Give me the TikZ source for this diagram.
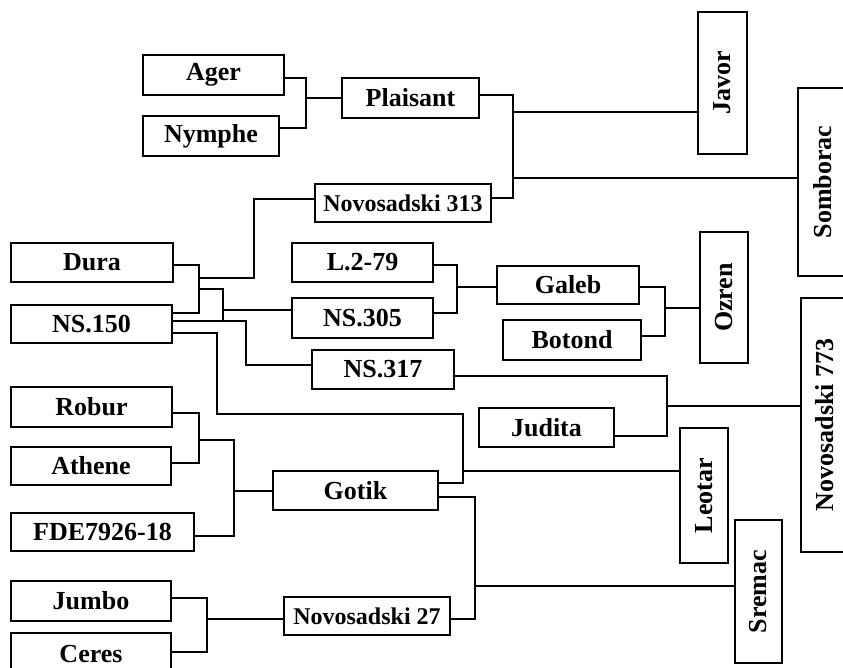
\documentclass[tikz,border=0pt]{standalone}
\usepackage{fontspec}
\setmainfont{Liberation Serif}
\usepackage{graphicx}
\begin{document}
\begin{tikzpicture}[x=1pt,y=-1pt,line width=1.5pt,
	box/.style={draw,inner sep=0pt,font=\fontsize{26}{30}\selectfont\bfseries}]
	\useasboundingbox (0,0) rectangle (843,668);
	\clip (0,0) rectangle (843,668);
	\foreach \n/\x/\y/\w/\h/\texn in {ager/213.5/75/141/40/Ager,
		nymphe/211/136/136/40/Nymphe,plaisant/410.5/98/137/40/Plaisant,
		dura/92/262.5/162/39/Dura,ns150/91.5/324/161/38/NS.150,
		l279/362.5/262.5/141/39/L.2-79,ns305/362.5/318/141/40/NS.305,
		galeb/568/285/142/38/Galeb,botond/572/340/138/40/Botond,
		ns317/383/369.5/142/39/NS.317,judita/546.5/427.5/135/39/Judita,
		robur/91.5/407/161/40/Robur,athene/91/466/160/38/Athene,
		fde/102.5/532/183/38/FDE7926-18,gotik/355.5/490.5/165/39/Gotik,
		jumbo/91/601/160/40/Jumbo,ceres/91/654/160/42/Ceres}
	\path (\x,\y) node[box,minimum width=\w,minimum height=\h](\n){\texn};
	\foreach \n/\x/\y/\w/\h/\texn in {nov313/403/203/176/38/Novosadski 313,
		nov27/367/616/166/38/Novosadski 27}
	\path (\x,\y) node[box,font=\fontsize{24}{28}\selectfont\bfseries,
	minimum width=\w,minimum height=\h](\n){\texn};
	\foreach \n/\x/\y/\w/\h/\texn in {javor/722.5/83/49/142/Javor,
		somborac/823/182/50/188/Somborac,ozren/724/297.5/48/131/Ozren,
		nov773/825/425/48/254/Novosadski 773,leotar/704/495.5/48/135/Leotar,
		sremac/758.5/591.5/47/143/Sremac}
	\path (\x,\y) node[box,minimum width=\w,minimum height=\h](\n)
	{\rotatebox{90}{\texn}};
	\foreach \n/\x/\y in {jA/306/98,jB/513/112,jB2/513/178,jC/254/278,
		jD/199/278,jE/199/289,jF/223/310,jG/246/365,jH/217/414,jI/463/471,
		jJ/457/287,jK/665/308,jL/667/406,jM/199/440,jN/234/491,jO/207/619,
		jP/475/586}
	\coordinate (\n) at (\x,\y);
	\draw ([yshift=-3pt]ager.east) -| (jA) |- ([yshift=8pt]nymphe.east);
	\draw (jA) -- (jA -| plaisant.west);
	\draw ([yshift=3pt]plaisant.east) -| (jB) |- ([yshift=5pt]nov313.east);
	\draw (jB) -- (jB -| javor.west);
	\draw (jB2) -- (jB2 -| somborac.west);
	\draw ([yshift=-2.5pt]dura.east) -| (jD) |- ([yshift=11pt]ns150.east);
	\draw ([yshift=4pt]nov313.west) -| (jC) -- (jD);
	\draw (jE) -| (jF) |- ([yshift=3pt]ns150.east);
	\draw (jF) -- (jF -| ns305.west);
	\draw ([yshift=3pt]ns150.east) -| (jG) -- (ns317.west |- jG);
	\draw ([yshift=-9pt]ns150.east) -| (jH) -| (jI) |- ([yshift=7.5pt]gotik.east);
	\draw (jI) -- (jI -| leotar.west);
	\draw ([yshift=-2.5pt]l279.east) -| (jJ) |- ([yshift=5pt]ns305.east);
	\draw (jJ) -- (jJ -| galeb.west);
	\draw ([yshift=-2pt]galeb.east) -| (jK) |- ([yshift=4pt]botond.east);
	\draw (jK) -- (jK -| ozren.west);
	\draw ([yshift=-6.5pt]ns317.east) -| (jL) |- ([yshift=-8.5pt]judita.east);
	\draw (jL) -- (jL -| nov773.west);
	\draw ([yshift=-6pt]robur.east) -| (jM) |- ([yshift=3pt]athene.east);
	\draw (jM) -| (jN) |- ([yshift=-4pt]fde.east);
	\draw (jN) -- (gotik.west |- jN);
	\draw ([yshift=3pt]jumbo.east) -| (jO) |- ([yshift=2pt]ceres.east);
	\draw (jO) -- (nov27.west |- jO);
	\draw ([yshift=-3pt]nov27.east) -| (jP) |- ([yshift=-6.5pt]gotik.east);
	\draw (jP) -- (jP -| sremac.west);
\end{tikzpicture}
\end{document}
